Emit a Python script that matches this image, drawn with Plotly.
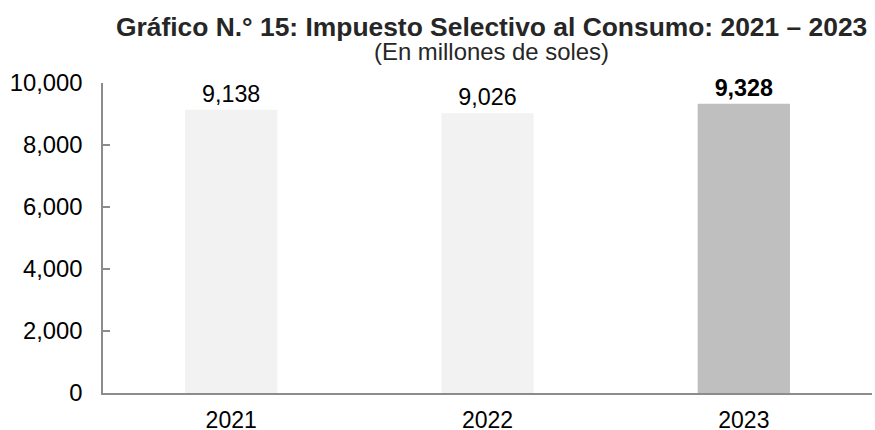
import plotly.graph_objects as go

years = ["2021", "2022", "2023"]
values = [9138, 9026, 9328]
labels = ["9,138", "9,026", "<b>9,328</b>"]
colors = ["#f2f2f2", "#f2f2f2", "#bfbfbf"]
y_ticks = [0, 2000, 4000, 6000, 8000, 10000]
y_tick_labels = ["0", "2,000", "4,000", "6,000", "8,000", "10,000"]

W, H = 875, 430
ML, MR, MT, MB = 103, 3, 83, 37
FONT = "Liberation Sans, Arial"

fig = go.Figure(go.Bar(
    x=years, y=values, marker_color=colors, marker_line_width=0,
    text=labels, textposition="outside", cliponaxis=False,
    textfont=dict(family=FONT, size=23.3, color="#000000"),
))

pw = W - ML - MR
ph = H - MT - MB


def px_to_paper(px, py):
    return (px - ML) / pw, (H - MB - py) / ph


tx, ty = px_to_paper(492, 27)
sx, sy = px_to_paper(492, 52)

fig.update_layout(
    width=W, height=H,
    margin=dict(l=ML, r=MR, t=MT, b=MB, autoexpand=False),
    plot_bgcolor="white", paper_bgcolor="white",
    bargap=0.64,
    showlegend=False,
    font=dict(family=FONT, color="#000000"),
    annotations=[
        dict(text="<b>Gráfico N.° 15: Impuesto Selectivo al Consumo: 2021 – 2023</b>",
             x=tx, y=ty, xref="paper", yref="paper", showarrow=False,
             xanchor="center", yanchor="middle",
             font=dict(size=26.4, color="#262626")),
        dict(text="(En millones de soles)",
             x=sx, y=sy, xref="paper", yref="paper", showarrow=False,
             xanchor="center", yanchor="middle",
             font=dict(size=23.9, color="#262626")),
    ],
)

fig.update_xaxes(
    showline=True, linecolor="#8c8c8c", linewidth=1.5,
    ticks="", tickfont=dict(size=23, color="#000000"),
    showgrid=False, ticklabelstandoff=6, automargin=False,
)
fig.update_yaxes(
    range=[0, 10000], tickvals=y_ticks, ticktext=y_tick_labels,
    showline=True, linecolor="#8c8c8c", linewidth=1.5,
    ticks="inside", ticklen=7, tickcolor="#8c8c8c", tickwidth=1.5,
    tickfont=dict(size=23.8, color="#000000"), showgrid=False, zeroline=False,
    ticklabelstandoff=14, automargin=False,
)

fig.write_html("out.html", post_script="document.body.style.margin='0';",
               config={"displayModeBar": False})
